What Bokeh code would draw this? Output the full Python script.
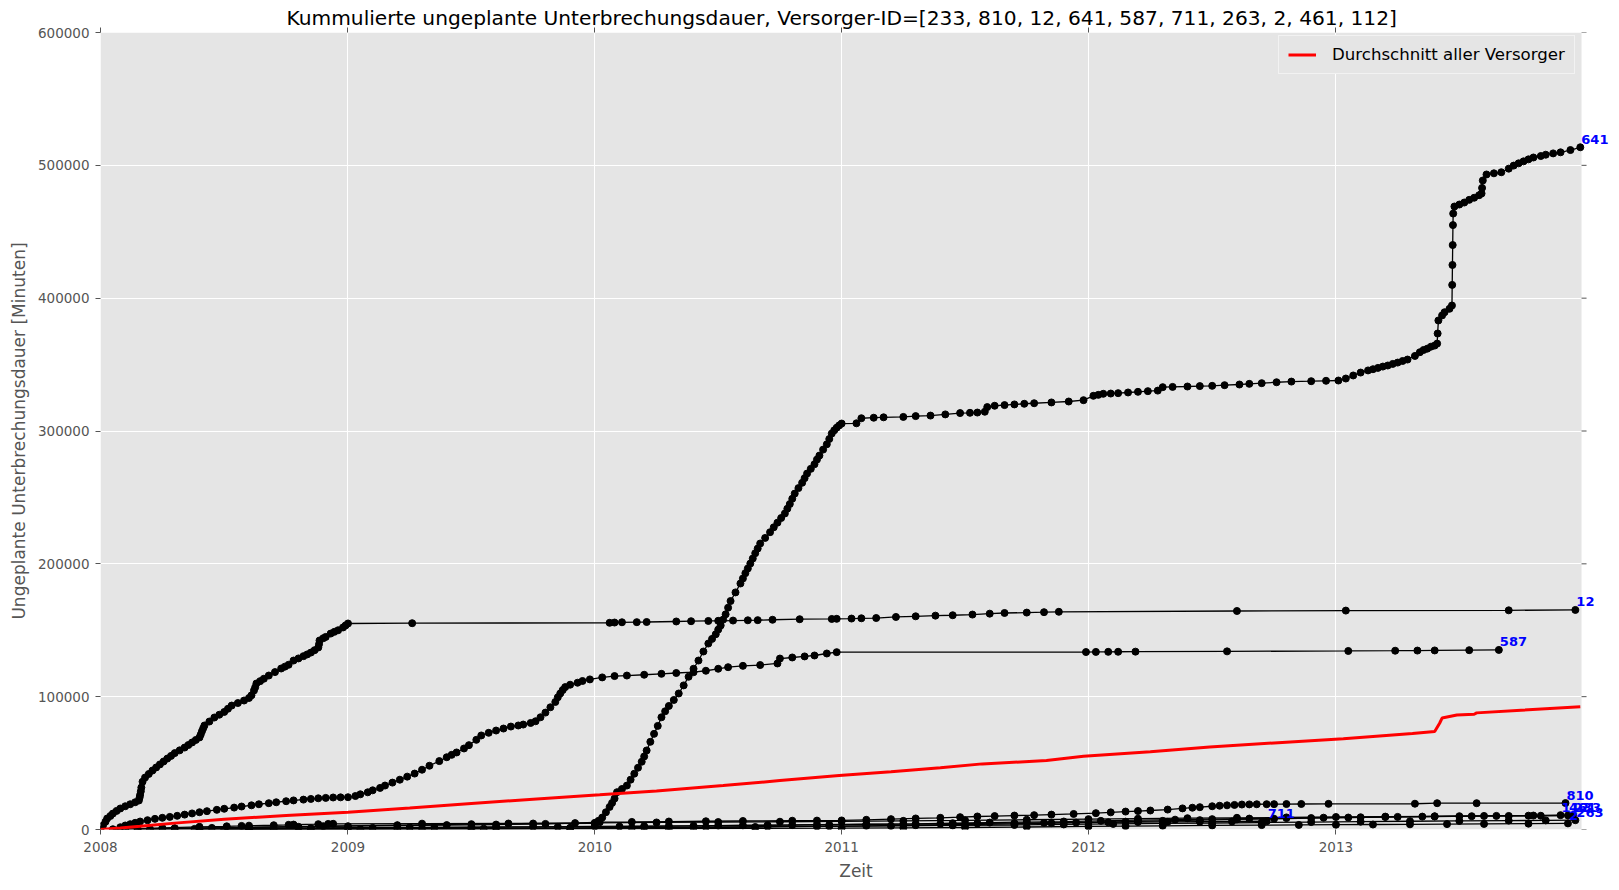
import pandas as pd
from bokeh.plotting import figure
from bokeh.models import (Range1d, FixedTicker, NumeralTickFormatter, DatetimeTickFormatter,
                          DatetimeAxis, Label, Legend, LegendItem, BoxAnnotation)
from bokeh.embed import file_html
from bokeh.resources import INLINE

# ---------------- data (time in decimal years, values in minutes) ----------------
ids = [233, 810, 12, 641, 587, 711, 263, 2, 461, 112]

t_641 = [2008.10, 2008.25, 2008.40, 2008.51, 2008.57, 2008.60, 2008.70, 2008.76, 2008.78, 2008.88,
         2008.92, 2008.94, 2009.30, 2009.65, 2010.00, 2010.015, 2010.03, 2010.045, 2010.06, 2010.07,
         2010.08, 2010.09, 2010.11, 2010.13, 2010.145, 2010.16, 2010.175, 2010.19, 2010.20, 2010.21,
         2010.225, 2010.24, 2010.255, 2010.27, 2010.285, 2010.30, 2010.32, 2010.34, 2010.36, 2010.38,
         2010.40, 2010.42, 2010.44, 2010.46, 2010.475, 2010.49, 2010.50, 2010.51, 2010.52, 2010.53,
         2010.54, 2010.55, 2010.57, 2010.59, 2010.60, 2010.61, 2010.62, 2010.63, 2010.64, 2010.65,
         2010.66, 2010.67, 2010.69, 2010.71, 2010.725, 2010.74, 2010.755, 2010.77, 2010.78, 2010.79,
         2010.80, 2010.81, 2010.825, 2010.84, 2010.85, 2010.86, 2010.875, 2010.89, 2010.90, 2010.91,
         2010.925, 2010.94, 2010.95, 2010.96, 2010.97, 2010.98, 2010.99, 2011.00, 2011.06, 2011.08,
         2011.13, 2011.17, 2011.25, 2011.30, 2011.36, 2011.42, 2011.48, 2011.52, 2011.55, 2011.58,
         2011.59, 2011.62, 2011.66, 2011.70, 2011.74, 2011.78, 2011.85, 2011.92, 2011.98, 2012.02,
         2012.04, 2012.06, 2012.09, 2012.12, 2012.16, 2012.20, 2012.24, 2012.28, 2012.30, 2012.34,
         2012.40, 2012.45, 2012.50, 2012.55, 2012.61, 2012.65, 2012.70, 2012.76, 2012.82, 2012.90,
         2012.96, 2013.01, 2013.04, 2013.07, 2013.10, 2013.13, 2013.15, 2013.17, 2013.19, 2013.21,
         2013.23, 2013.25, 2013.27, 2013.29, 2013.32, 2013.34, 2013.355, 2013.37, 2013.385, 2013.40,
         2013.41, 2013.412, 2013.415, 2013.43, 2013.44, 2013.46, 2013.47, 2013.471, 2013.472, 2013.473,
         2013.474, 2013.475, 2013.48, 2013.50, 2013.52, 2013.54, 2013.56, 2013.58, 2013.59, 2013.592,
         2013.595, 2013.61, 2013.64, 2013.67, 2013.70, 2013.72, 2013.74, 2013.76, 2013.78, 2013.80,
         2013.83, 2013.85, 2013.88, 2013.91, 2013.95, 2013.99]
v_641 = [300, 1200, 2000, 2400, 2700, 2900, 3200, 3500, 3700, 4000,
         4200, 4300, 4400, 4500, 4600, 6500, 9000, 13000, 17000, 20000,
         23300, 28100, 30500, 33100, 37500, 42000, 46500, 51000, 55000, 59500,
         66000, 72000, 78000, 84500, 89000, 93000, 97500, 102400, 108500, 115000,
         121000, 127200, 134000, 140000, 143500, 147000, 150500, 153600, 158000, 162000,
         167000, 172000, 178500, 185200, 189000, 193000, 196500, 200200, 204000, 208000,
         211500, 215300, 219500, 223800, 227500, 231000, 234500, 237900, 241500, 245000,
         249000, 252900, 257000, 261000, 264500, 268000, 271500, 275000, 278500, 281500,
         286000, 290000, 294000, 298100, 300500, 302500, 304200, 305600, 305800, 309600,
         310000, 310300, 310600, 311200, 311600, 312500, 313500, 313700, 313900, 314500,
         318000, 319000, 319500, 320000, 320500, 320900, 321500, 322200, 323200, 326500,
         327200, 328000, 328200, 328500, 329000, 329500, 330000, 330400, 333000, 333200,
         333500, 333800, 334000, 334500, 335000, 335500, 336000, 336700, 337200, 337500,
         337800, 338000, 339500, 341800, 344000, 345600, 346500, 347500, 348500, 349300,
         350500, 351500, 352700, 353800, 356500, 359300, 361000, 362000, 363500, 364300,
         365800, 373400, 383200, 387000, 389400, 392000, 394500, 410000, 425000, 440000,
         455000, 463700, 469000, 470500, 472000, 474000, 475600, 477500, 478800, 483000,
         488600, 493100, 494000, 494800, 497500, 499800, 501500, 503000, 504500, 505900,
         507000, 508000, 509000, 509800, 511500, 513600]

t_12 = [2008.00, 2008.01, 2008.02, 2008.027, 2008.04, 2008.05, 2008.065, 2008.08, 2008.10, 2008.12,
        2008.14, 2008.155, 2008.158, 2008.16, 2008.163, 2008.165, 2008.17, 2008.18, 2008.195, 2008.21,
        2008.225, 2008.24, 2008.255, 2008.27, 2008.285, 2008.30, 2008.32, 2008.34, 2008.355, 2008.37,
        2008.385, 2008.40, 2008.405, 2008.41, 2008.415, 2008.42, 2008.44, 2008.46, 2008.48, 2008.50,
        2008.515, 2008.53, 2008.555, 2008.58, 2008.60, 2008.61, 2008.62, 2008.625, 2008.63, 2008.645,
        2008.66, 2008.68, 2008.705, 2008.73, 2008.745, 2008.76, 2008.78, 2008.80, 2008.82, 2008.835,
        2008.85, 2008.865, 2008.88, 2008.883, 2008.885, 2008.90, 2008.91, 2008.93, 2008.945, 2008.96,
        2008.98, 2008.99, 2009.00, 2009.26, 2010.06, 2010.08, 2010.11, 2010.17, 2010.21, 2010.33,
        2010.39, 2010.46, 2010.50, 2010.56, 2010.62, 2010.66, 2010.72, 2010.83, 2010.96, 2010.98,
        2011.04, 2011.08, 2011.14, 2011.22, 2011.30, 2011.38, 2011.45, 2011.53, 2011.60, 2011.66,
        2011.75, 2011.82, 2011.88, 2012.60, 2013.04, 2013.70, 2013.97]
v_12 = [0, 3000, 5800, 8300, 10200, 12000, 14000, 15800, 17500, 19000,
        20500, 21800, 24000, 26000, 28800, 31600, 36000, 39100, 41800, 44400,
        46700, 49000, 51200, 53400, 55400, 57500, 59600, 61700, 63600, 65500,
        67400, 69300, 71500, 74000, 76200, 78300, 81300, 84300, 86400, 88500,
        90900, 93300, 95200, 97100, 99000, 101000, 104600, 107000, 109900, 111700,
        113500, 115900, 118500, 121200, 122600, 124000, 127200, 128800, 130500, 131800,
        133200, 135000, 137000, 139500, 142300, 144000, 145000, 147500, 148800, 150000,
        152100, 153600, 155100, 155300, 155600, 155800, 156000, 156100, 156200, 156600,
        156800, 157000, 157100, 157300, 157500, 157600, 157900, 158300, 158500, 158600,
        158800, 159000, 159200, 160000, 160500, 161000, 161300, 161800, 162500, 163000,
        163300, 163600, 163900, 164500, 164800, 165000, 165300]

t_587 = [2008.08, 2008.10, 2008.12, 2008.14, 2008.16, 2008.19, 2008.22, 2008.25, 2008.28, 2008.31,
         2008.34, 2008.37, 2008.40, 2008.43, 2008.47, 2008.50, 2008.54, 2008.57, 2008.61, 2008.64,
         2008.68, 2008.71, 2008.75, 2008.78, 2008.82, 2008.85, 2008.88, 2008.91, 2008.94, 2008.97,
         2009.00, 2009.03, 2009.05, 2009.08, 2009.10, 2009.13, 2009.15, 2009.18, 2009.21, 2009.24,
         2009.27, 2009.30, 2009.33, 2009.37, 2009.40, 2009.42, 2009.44, 2009.47, 2009.49, 2009.52,
         2009.54, 2009.57, 2009.60, 2009.63, 2009.66, 2009.69, 2009.71, 2009.74, 2009.76, 2009.78,
         2009.80, 2009.82, 2009.84, 2009.85, 2009.86, 2009.87, 2009.88, 2009.90, 2009.93, 2009.95,
         2009.98, 2010.03, 2010.08, 2010.13, 2010.20, 2010.27, 2010.33, 2010.40, 2010.45, 2010.50,
         2010.54, 2010.60, 2010.67, 2010.74, 2010.75, 2010.80, 2010.85, 2010.89, 2010.94, 2010.98,
         2011.99, 2012.03, 2012.08, 2012.12, 2012.19, 2012.56, 2013.05, 2013.24, 2013.33, 2013.40,
         2013.54, 2013.66]
v_587 = [1700, 3000, 4000, 5000, 6000, 7000, 8000, 8800, 9500, 10300,
         11200, 12100, 13000, 13800, 14800, 15600, 16500, 17300, 18200, 19000,
         19800, 20500, 21300, 21900, 22500, 23000, 23500, 23800, 24100, 24200,
         24300, 25200, 26500, 28000, 29500, 31300, 33100, 35300, 37500, 39800,
         42100, 45000, 48000, 51500, 54400, 56200, 58000, 61000, 63500, 67500,
         70800, 72800, 74500, 76000, 77500, 78300, 79000, 80200, 81500, 84500,
         88000, 92000, 96000, 99500, 102400, 105000, 107200, 109000, 110500, 111800,
         113000, 114500, 115500, 115900, 116500, 117200, 117800, 118400, 119500, 121000,
         122200, 123200, 123800, 125000, 128700, 129500, 130300, 131000, 132500, 133500,
         133600, 133700, 133750, 133800, 133900, 134100, 134400, 134600, 134700, 134800,
         135000, 135200]

t_810 = [2008.05, 2008.15, 2008.30, 2008.45, 2008.60, 2008.80, 2009.00, 2009.20, 2009.40, 2009.60,
         2009.80, 2009.92, 2010.02, 2010.15, 2010.30, 2010.45, 2010.60, 2010.80, 2010.90, 2011.00,
         2011.10, 2011.20, 2011.30, 2011.40, 2011.48, 2011.55, 2011.62, 2011.70, 2011.78, 2011.85,
         2011.94, 2012.03, 2012.09, 2012.15, 2012.20, 2012.25, 2012.32, 2012.38, 2012.42, 2012.45,
         2012.50, 2012.53, 2012.56, 2012.59, 2012.62, 2012.65, 2012.68, 2012.72, 2012.75, 2012.80,
         2012.86, 2012.97, 2013.32, 2013.41, 2013.57, 2013.93]
v_810 = [200, 500, 900, 1200, 1600, 2000, 2500, 2900, 3300, 3700,
         4200, 4800, 5500, 5700, 6000, 6200, 6400, 6600, 6700, 6800,
         7300, 7800, 8300, 8800, 9300, 9800, 10100, 10500, 10800, 11200,
         11700, 12300, 12900, 13500, 13900, 14300, 15000, 15900, 16400, 16800,
         17500, 17900, 18200, 18500, 18800, 18900, 19000, 19050, 19100, 19150,
         19200, 19300, 19400, 19800, 19800, 19900]

t_711 = [2008.20, 2008.40, 2008.60, 2008.80, 2009.00, 2009.25, 2009.50, 2009.75, 2010.00, 2010.20,
         2010.40, 2010.60, 2010.80, 2010.95, 2011.10, 2011.25, 2011.40, 2011.55, 2011.70, 2011.82,
         2011.95, 2012.08, 2012.20, 2012.32, 2012.45, 2012.58, 2012.72]
v_711 = [300, 550, 800, 1050, 1300, 1550, 1800, 2050, 2300, 2550,
         2800, 3050, 3300, 3550, 3800, 4050, 4300, 4550, 4800, 5000,
         5200, 5400, 5600, 5750, 5900, 6050, 6200]

t_233 = [2008.15, 2008.38, 2008.60, 2008.85, 2009.10, 2009.35, 2009.60, 2009.85, 2010.10, 2010.30,
         2010.50, 2010.70, 2010.90, 2011.10, 2011.30, 2011.45, 2011.60, 2011.75, 2011.90, 2012.05,
         2012.20, 2012.35, 2012.50, 2012.65, 2012.80, 2012.95, 2013.10, 2013.25, 2013.40, 2013.55,
         2013.70, 2013.83, 2013.96]
v_233 = [200, 450, 700, 950, 1200, 1450, 1700, 1950, 2200, 2550,
         2900, 3250, 3600, 3950, 4300, 4750, 5200, 5600, 6000, 6500,
         7000, 7400, 7800, 8200, 8600, 8900, 9200, 9500, 9800, 10000,
         10200, 10350, 10500]

t_112 = [2008.50, 2008.85, 2009.20, 2009.55, 2009.90, 2010.15, 2010.40, 2010.65, 2010.90, 2011.10,
         2011.30, 2011.50, 2011.70, 2011.85, 2012.00, 2012.15, 2012.30, 2012.45, 2012.60, 2012.75,
         2012.90, 2013.05, 2013.20, 2013.35, 2013.50, 2013.65, 2013.80, 2013.91]
v_112 = [100, 250, 400, 650, 900, 1200, 1500, 1900, 2300, 2750,
         3200, 3750, 4300, 4800, 5300, 5900, 6500, 7050, 7600, 8100,
         8600, 9000, 9400, 9700, 10000, 10250, 10500, 10800]

t_461 = [2008.30, 2008.60, 2008.90, 2009.20, 2009.50, 2009.75, 2010.00, 2010.25, 2010.50, 2010.75,
         2011.00, 2011.25, 2011.50, 2011.75, 2012.00, 2012.20, 2012.40, 2012.60, 2012.80, 2013.00,
         2013.20, 2013.40, 2013.60, 2013.78, 2013.94]
v_461 = [800, 1650, 2500, 3250, 4000, 4500, 5000, 5300, 5600, 5850,
         6100, 6500, 6900, 7350, 7800, 8150, 8500, 8800, 9100, 9400,
         9700, 9950, 10200, 10400, 10600]

t_263 = [2008.40, 2008.70, 2009.00, 2009.30, 2009.60, 2009.90, 2010.20, 2010.45, 2010.70, 2010.95,
         2011.20, 2011.45, 2011.70, 2011.90, 2012.10, 2012.30, 2012.50, 2012.70, 2012.90, 2013.10,
         2013.30, 2013.50, 2013.70, 2013.85, 2013.97]
v_263 = [200, 400, 600, 800, 1000, 1250, 1500, 1800, 2100, 2400,
         2700, 3050, 3400, 3800, 4200, 4550, 4900, 5250, 5600, 5900,
         6200, 6450, 6700, 6850, 7000]

t_2 = [2008.60, 2009.05, 2009.50, 2009.90, 2010.30, 2010.65, 2011.00, 2011.25, 2011.50, 2011.75,
       2012.00, 2012.15, 2012.30, 2012.50, 2012.70, 2012.85, 2013.00, 2013.15, 2013.30, 2013.45,
       2013.60, 2013.78, 2013.94]
v_2 = [100, 200, 300, 450, 600, 800, 1000, 1250, 1500, 1900,
       2300, 2550, 2800, 3050, 3300, 3450, 3600, 3750, 3900, 4050,
       4200, 4400, 4600]

t_avg = [2008.00, 2008.08, 2008.16, 2008.30, 2008.50, 2008.75, 2009.00, 2009.25, 2009.50, 2009.75,
         2010.02, 2010.25, 2010.52, 2010.75, 2010.99, 2011.20, 2011.40, 2011.57, 2011.83, 2011.98,
         2012.25, 2012.49, 2012.75, 2013.03, 2013.31, 2013.40, 2013.42, 2013.43, 2013.49, 2013.56,
         2013.57, 2013.75, 2013.99]
v_avg = [0, 1200, 2500, 4800, 7800, 10500, 13000, 16200, 19500, 22800,
         26100, 29000, 33100, 36800, 40600, 43500, 46500, 49400, 51900, 55100,
         58500, 62100, 65200, 68300, 72300, 73800, 80000, 83900, 86200, 86800,
         87800, 89800, 92400]

year_ticks = [2008, 2009, 2010, 2011, 2012, 2013]
y_ticks = [0, 100000, 200000, 300000, 400000, 500000, 600000]

series = {233: (t_233, v_233), 810: (t_810, v_810), 12: (t_12, v_12), 641: (t_641, v_641),
          587: (t_587, v_587), 711: (t_711, v_711), 263: (t_263, v_263), 2: (t_2, v_2),
          461: (t_461, v_461), 112: (t_112, v_112)}

X_START, X_END = 2008.0, 2013.995      # shaded axes area
X_PAD = 0.1214                         # white room at the right for the ID labels


def to_dt(y):
    yi = int(y)
    a = pd.Timestamp(year=yi, month=1, day=1)
    b = pd.Timestamp(year=yi + 1, month=1, day=1)
    return a + (b - a) * (y - yi)


def to_ms(y):
    return to_dt(y).value / 1e6


GREY = "#555555"
FONT = "DejaVu Sans"

p = figure(width=1619, height=890, x_axis_type="datetime", output_backend="svg",
           toolbar_location=None,
           x_range=Range1d(to_dt(X_START), to_dt(X_END + X_PAD)), y_range=Range1d(0, 600000),
           title="Kummulierte ungeplante Unterbrechungsdauer, Versorger-ID=[" +
                 ", ".join(str(i) for i in ids) + "]",
           min_border_left=100, min_border_right=8, min_border_top=32, min_border_bottom=61)

p.title.align = "left"
p.title.offset = 186
p.title.text_font = FONT
p.title.text_font_size = "20.2px"
p.title.text_font_style = "normal"
p.title.text_color = "black"
p.title.standoff = -5

p.background_fill_color = "white"
p.border_fill_color = "white"
p.outline_line_color = None
p.add_layout(BoxAnnotation(left=to_ms(X_START), right=to_ms(X_END), bottom=0, top=600000,
                           fill_color="#e5e5e5", fill_alpha=1, line_color=None, level="image"))
p.grid.grid_line_color = "white"
p.grid.grid_line_width = 1

p.xaxis.ticker = FixedTicker(ticks=[to_ms(y) for y in year_ticks])
p.xaxis.formatter = DatetimeTickFormatter(years="%Y", months="%Y", days="%Y", hours="%Y")
p.yaxis.ticker = FixedTicker(ticks=y_ticks)
p.yaxis.formatter = NumeralTickFormatter(format="0")
p.xaxis.axis_label = "Zeit"
p.yaxis.axis_label = "Ungeplante Unterbrechungsdauer [Minuten]"

for ax in (p.xaxis[0], p.yaxis[0]):
    ax.axis_line_color = None
    ax.major_tick_in = 0
    ax.major_tick_out = 5
    ax.minor_tick_in = 0
    ax.minor_tick_out = 0
    ax.major_tick_line_color = GREY
    ax.major_label_text_color = GREY
    ax.major_label_text_font = FONT
    ax.major_label_text_font_size = "13.5px"
    ax.major_label_text_line_height = 1.0
    ax.axis_label_text_color = GREY
    ax.axis_label_text_font = FONT
    ax.axis_label_text_font_size = "17px"
    ax.axis_label_text_font_style = "normal"
    ax.axis_label_text_line_height = 1.0
p.xaxis.major_label_standoff = 7
p.xaxis.axis_label_standoff = 6
p.yaxis.major_label_standoff = 6
p.yaxis.axis_label_standoff = 6

# tick marks on the top edge
ax_t = DatetimeAxis(ticker=FixedTicker(ticks=[to_ms(y) for y in year_ticks]),
                    major_label_text_font_size="1px", major_label_text_color=None,
                    axis_line_color=None, major_tick_in=0, major_tick_out=5, minor_tick_in=0,
                    minor_tick_out=0, major_tick_line_color=GREY, major_label_standoff=0)
p.add_layout(ax_t, "above")
# tick marks on the right edge of the shaded area
p.ray(x=[to_dt(X_END)] * len(y_ticks), y=y_ticks, length=5, length_units="screen", angle=0,
      line_color=GREY, line_width=1)

for sid in ids:
    t, v = series[sid]
    xs = [to_dt(a) for a in t]
    p.line(xs, v, line_color="black", line_width=1.3)
    p.scatter(xs, v, size=7, fill_color="black", line_color="black")

avg_r = p.line([to_dt(a) for a in t_avg], v_avg, line_color="red", line_width=3)

for sid in ids:
    t, v = series[sid]
    p.add_layout(Label(x=to_ms(t[-1]), y=v[-1], text=str(sid), x_offset=1, y_offset=8,
                       text_color="blue", text_font=FONT, text_font_style="bold",
                       text_font_size="13px", text_baseline="alphabetic"))

legend = Legend(items=[LegendItem(label="Durchschnitt aller Versorger", renderers=[avg_r])],
                location=(1178, 755), margin=0, padding=9, glyph_width=28, glyph_height=13,
                label_height=13, label_standoff=16, spacing=0,
                label_text_font=FONT, label_text_font_size="16.6px", label_text_color="black",
                background_fill_color="#e5e5e5", background_fill_alpha=1,
                border_line_color="white", border_line_width=1)
p.add_layout(legend)

open("out.html", "w").write(file_html(p, INLINE))
